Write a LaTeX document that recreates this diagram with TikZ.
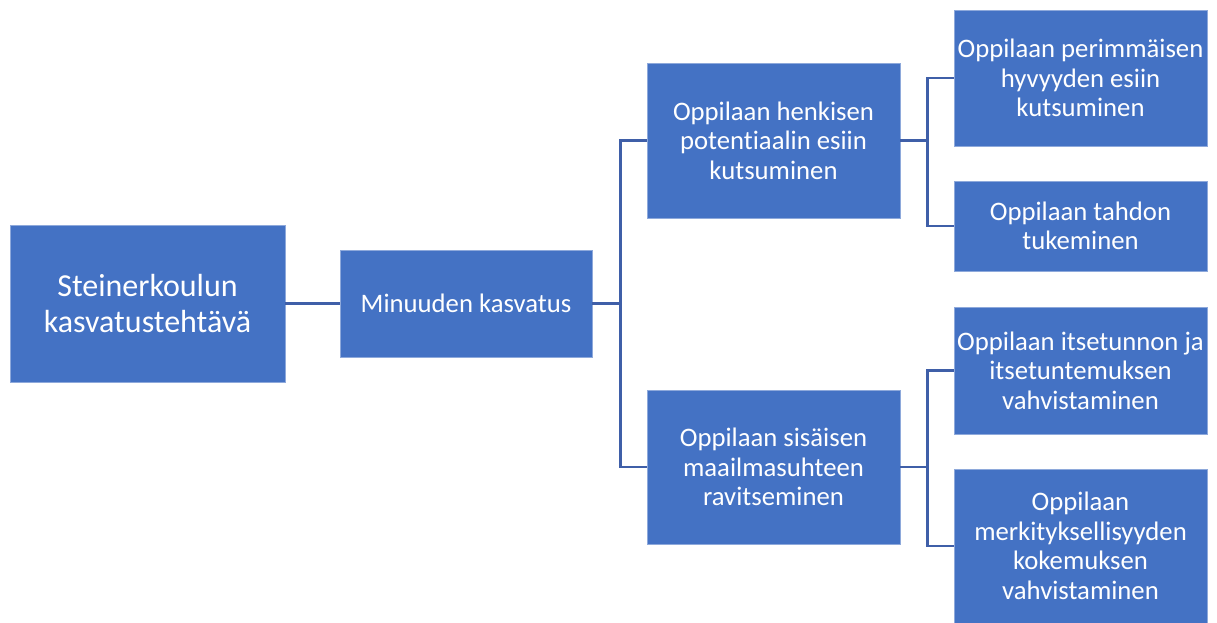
\documentclass[tikz,border=0pt]{standalone}
\usepackage{fontspec}
\setmainfont{Carlito}[Ligatures=NoCommon]
\definecolor{boxfill}{HTML}{4472C4}
\definecolor{boxedge}{HTML}{8EA9DB}
\definecolor{linkc}{HTML}{3F5FA8}
\tikzset{
  box/.style={draw=boxedge, line width=0.8pt, fill=boxfill, text=white, align=center, inner sep=0pt, font=\fontsize{26.7}{29.5}\selectfont},
  bigbox/.style={box, font=\fontsize{32}{36}\selectfont},
  link/.style={draw=linkc, line width=2.6pt}
}
\begin{document}
\begin{tikzpicture}[x=1pt,y=-1pt]
\useasboundingbox[fill=white] (0,0) rectangle (1217,623);
\node[bigbox, minimum width=275pt, minimum height=157pt] (A) at (147.5,303.5) {Steinerkoulun\\kasvatustehtävä};
\node[box, minimum width=252pt, minimum height=107pt] (B) at (466,303.5) {Minuuden kasvatus};
\node[box, minimum width=253pt, minimum height=155pt] (C) at (773.5,140.5) {Oppilaan henkisen\\potentiaalin esiin\\kutsuminen};
\node[box, minimum width=253pt, minimum height=154pt] (D) at (773.5,467) {Oppilaan sisäisen\\maailmasuhteen\\ravitseminen};
\node[box, minimum width=253pt, minimum height=136pt] (E) at (1080.5,78) {Oppilaan perimmäisen\\hyvyyden esiin\\kutsuminen};
\node[box, minimum width=253pt, minimum height=90pt] (F) at (1080.5,226) {Oppilaan tahdon\\tukeminen};
\node[box, minimum width=253pt, minimum height=127pt] (G) at (1080.5,370.5) {Oppilaan itsetunnon ja\\itsetuntemuksen\\vahvistaminen};
\node[box, minimum width=253pt, minimum height=154pt] (H) at (1080.5,546) {Oppilaan\\merkityksellisyyden\\kokemuksen\\vahvistaminen};
\draw[link] (A.east) -- (B.west);
\draw[link] (B.east) -- ++(28,0) coordinate (bj);
\draw[link] (C.west) -- (C.west -| bj) -- (D.west -| bj) -- (D.west);
\draw[link] (C.east) -- ++(27,0) coordinate (cj);
\draw[link] (E.west) -- (E.west -| cj) -- (F.west -| cj) -- (F.west);
\draw[link] (D.east) -- ++(27,0) coordinate (dj);
\draw[link] (G.west) -- (G.west -| dj) -- (H.west -| dj) -- (H.west);
\end{tikzpicture}
\end{document}
